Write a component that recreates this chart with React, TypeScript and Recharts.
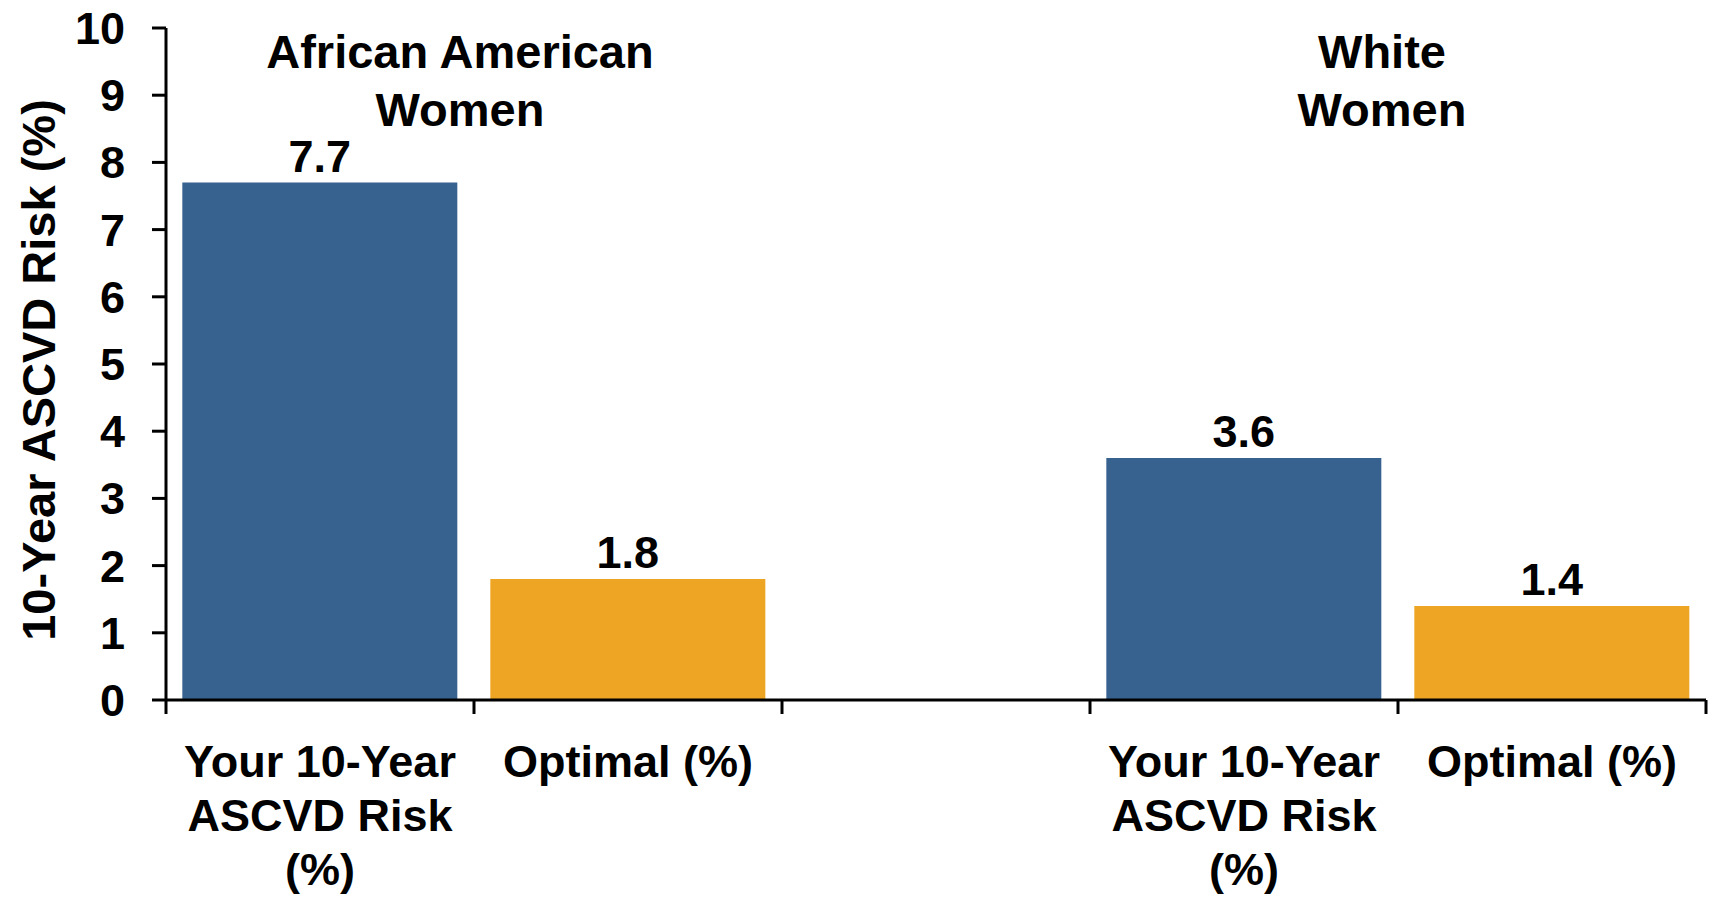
import { BarChart, Bar, XAxis, YAxis, Cell, LabelList, Label } from 'recharts';

// categories along the x axis ("\n" marks a line break in the tick label)
const categories = [
  'Your 10-Year\nASCVD Risk\n(%)',
  'Optimal (%)',
  '',
  'Your 10-Year\nASCVD Risk\n(%)',
  'Optimal (%)',
];
const riskValues: (number | null)[] = [7.7, 1.8, null, 3.6, 1.4];
const barKinds = ['risk', 'optimal', 'none', 'risk', 'optimal'];
const groupTitles = ['African American\nWomen', 'White\nWomen'];
const yTicks = [0, 1, 2, 3, 4, 5, 6, 7, 8, 9, 10];

const colors: Record<string, string> = {
  risk: '#37618F',
  optimal: '#EDA523',
  none: 'transparent',
};

const FONT = '"Liberation Sans", Arial, Helvetica, sans-serif';
const W = 1712;
const H = 897;

const data = categories.map((name, i) => ({
  name,
  value: riskValues[i],
  kind: barKinds[i],
}));

const CategoryTick = (props: any) => {
  const { x, y, payload, index, visibleTicksCount } = props;
  const half = payload?.offset ?? 154;
  const lines = String(payload.value).split('\n').filter((l) => l.length > 0);
  return (
    <g>
      <line x1={x - half} x2={x - half} y1={y} y2={y + 14} stroke="#000" strokeWidth={3} />
      {index === visibleTicksCount - 1 && (
        <line x1={x + half} x2={x + half} y1={y} y2={y + 14} stroke="#000" strokeWidth={3} />
      )}
      <text x={x} y={y} textAnchor="middle" fontFamily={FONT} fontWeight="bold" fontSize={45} fill="#000">
        {lines.map((line, i) => (
          <tspan key={i} x={x} dy={i === 0 ? 77 : 54}>
            {line}
          </tspan>
        ))}
      </text>
    </g>
  );
};

const YTitle = () => (
  <text
    x={38}
    y={370}
    transform="rotate(-90, 38, 370)"
    textAnchor="middle"
    dominantBaseline="central"
    fontFamily={FONT}
    fontWeight="bold"
    fontSize={47}
    fill="#000"
  >
    10-Year ASCVD Risk (%)
  </text>
);

const titleX = [460, 1382];

export default function App() {
  return (
    <div style={{ position: 'absolute', left: 0, top: 0, width: W, height: H, background: '#fff' }}>
      <BarChart
        width={W}
        height={H}
        data={data}
        margin={{ top: 28, right: 6, left: 0, bottom: 7 }}
        barCategoryGap="5.3%"
      >
        <XAxis
          dataKey="name"
          height={190}
          interval={0}
          tickSize={0}
          tickMargin={0}
          tickLine={false}
          axisLine={{ stroke: '#000', strokeWidth: 3 }}
          tick={<CategoryTick />}
        />
        <YAxis
          width={166}
          domain={[0, 10]}
          ticks={yTicks}
          interval={0}
          tickSize={14}
          tickMargin={27}
          axisLine={{ stroke: '#000', strokeWidth: 3 }}
          tickLine={{ stroke: '#000', strokeWidth: 3 }}
          tick={{ fill: '#000', fontSize: 45, fontWeight: 'bold', fontFamily: FONT }}
        >
          <Label content={<YTitle />} />
        </YAxis>
        <Bar dataKey="value" isAnimationActive={false}>
          {data.map((d, i) => (
            <Cell key={i} fill={colors[d.kind]} />
          ))}
          <LabelList
            dataKey="value"
            position="top"
            offset={11}
            fill="#000"
            fontSize={45}
            fontWeight="bold"
            fontFamily={FONT}
          />
        </Bar>
      </BarChart>
      <svg
        width={W}
        height={H}
        style={{ position: 'absolute', left: 0, top: 0, pointerEvents: 'none' }}
      >
        {groupTitles.map((t, gi) => (
          <text
            key={gi}
            x={titleX[gi]}
            y={68}
            textAnchor="middle"
            fontFamily={FONT}
            fontWeight="bold"
            fontSize={47}
            fill="#000"
          >
            {t.split('\n').map((line, li) => (
              <tspan key={li} x={titleX[gi]} dy={li === 0 ? 0 : 58}>
                {line}
              </tspan>
            ))}
          </text>
        ))}
      </svg>
    </div>
  );
}
